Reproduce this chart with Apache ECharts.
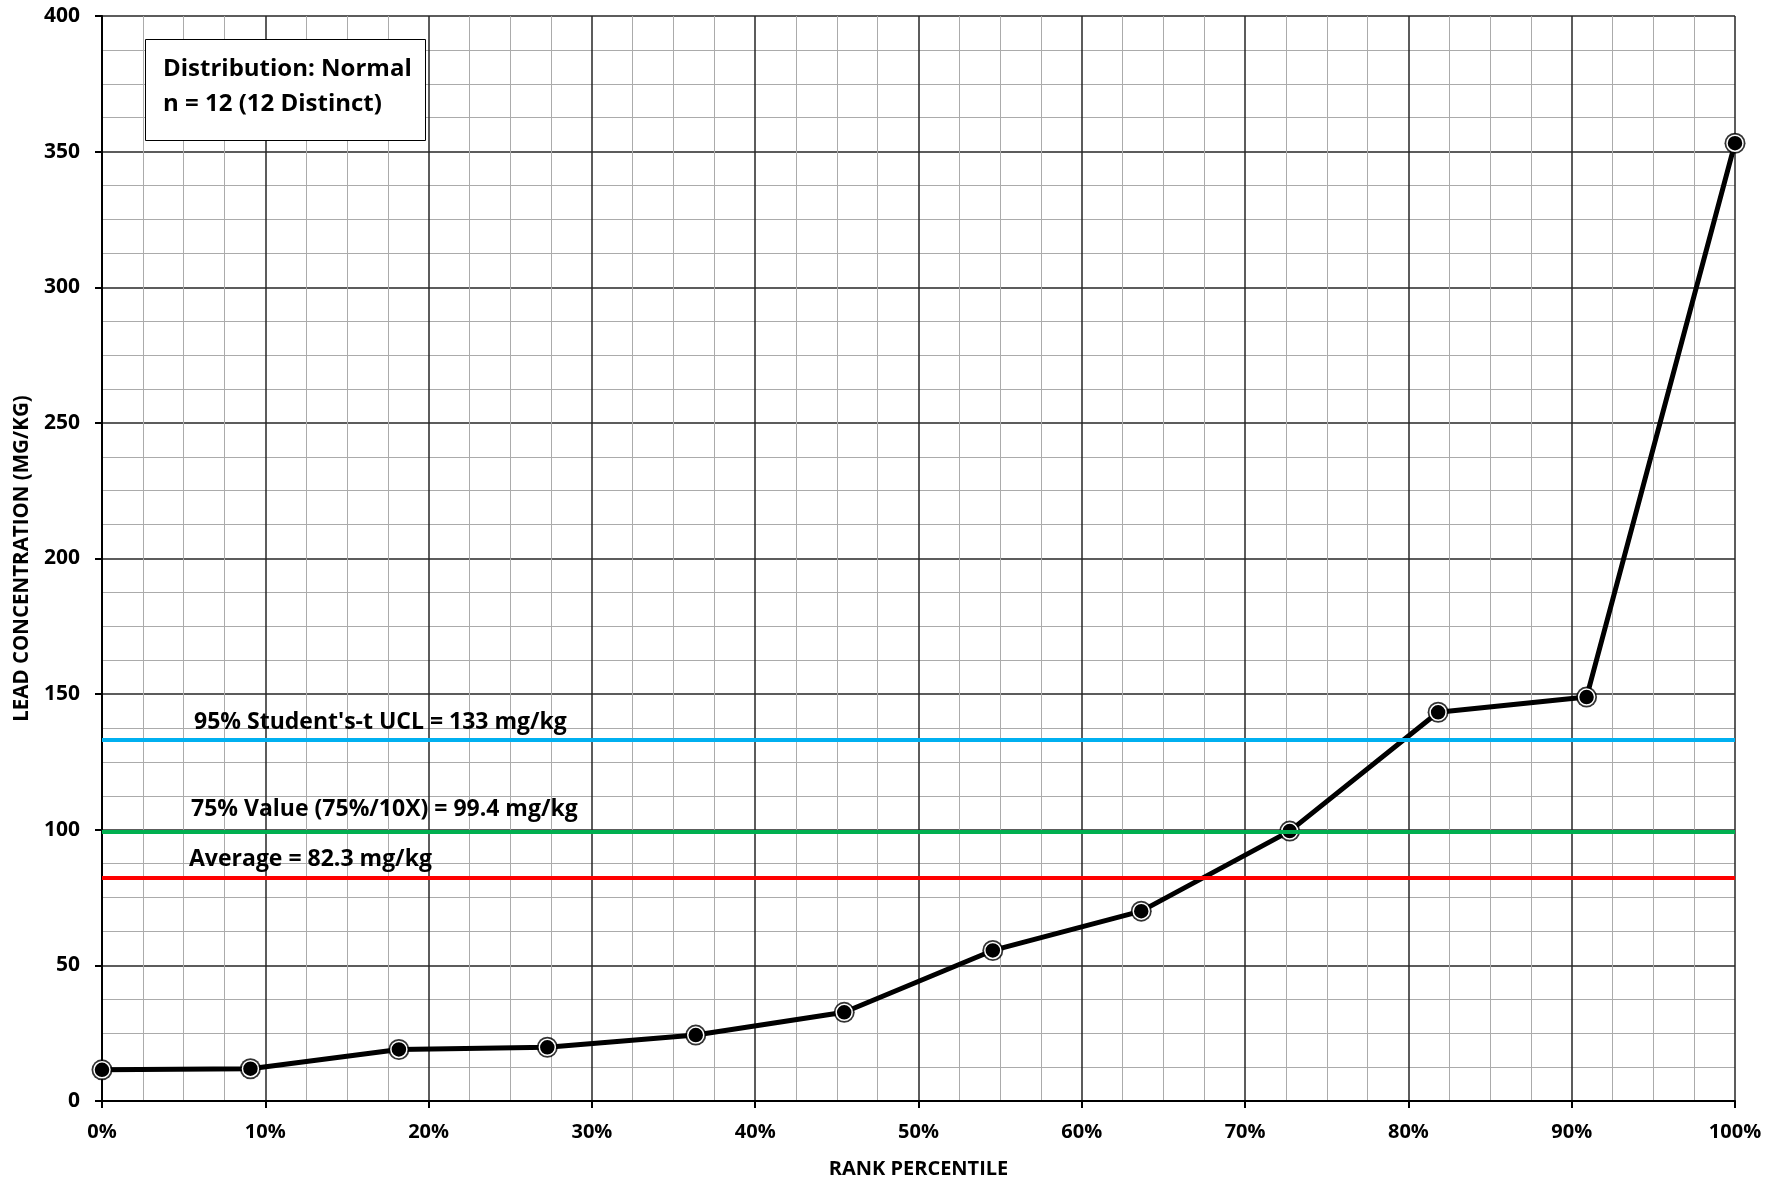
<!DOCTYPE html>
<html>
<head>
<meta charset="utf-8">
<script src="https://cdn.jsdelivr.net/npm/echarts@6/dist/echarts.min.js"></script>
<style>
  html, body { margin: 0; padding: 0; background: #fff; }
  #main { width: 1782px; height: 1184px; }
</style>
</head>
<body>
<div id="main"></div>
<script>
// rank percentile (%) of each sample, and its lead result (mg/kg)
const rankPct = [0, 9.09, 18.18, 27.27, 36.36, 45.45, 54.55, 63.64, 72.73, 81.82, 90.91, 100];
const leadConc = [11.5, 11.9, 19.0, 19.8, 24.3, 32.7, 55.5, 70.0, 99.5, 143.3, 148.9, 353.1];

// horizontal reference lines
const refValues = [133, 99.4, 82.3];
const refNames = ["95% Student's-t UCL = 133 mg/kg", '75% Value (75%/10X) = 99.4 mg/kg', 'Average = 82.3 mg/kg'];
const refColors = ['#00B0F0', '#00B050', '#FF0000'];

const FONT = 'Open Sans';
const chart = echarts.init(document.getElementById('main'));

const points = rankPct.map((x, i) => [x, leadConc[i]]);

chart.setOption({
  animation: false,
  textStyle: { fontFamily: FONT },
  title: {
    text: 'Distribution: Normal\nn = 12 (12 Distinct)',
    left: 145,
    top: 39,
    padding: [13, 14, 19, 18],
    borderColor: '#000',
    borderWidth: 1,
    backgroundColor: '#fff',
    textStyle: { fontFamily: FONT, fontSize: 24, fontWeight: 'bold', color: '#000', lineHeight: 35 }
  },
  grid: { left: 102, right: 47, top: 16, bottom: 82 },
  xAxis: {
    type: 'value',
    min: 0,
    max: 100,
    interval: 10,
    name: 'RANK PERCENTILE',
    nameLocation: 'middle',
    nameGap: 58,
    nameTextStyle: { fontFamily: FONT, fontSize: 20, fontWeight: 'bold', color: '#000' },
    axisLine: { lineStyle: { color: '#000', width: 2 } },
    axisTick: { show: true, length: 7, lineStyle: { color: '#000', width: 2 } },
    axisLabel: { formatter: '{value}%', margin: 21, fontSize: 20, fontWeight: 'bold', color: '#000' },
    splitLine: { show: true, lineStyle: { color: '#262626', width: 1.5 } },
    minorTick: { show: true, splitNumber: 4, length: 0 },
    minorSplitLine: { show: true, lineStyle: { color: '#ababab', width: 1 } }
  },
  yAxis: {
    type: 'value',
    min: 0,
    max: 400,
    interval: 50,
    name: 'LEAD CONCENTRATION (MG/KG)',
    nameLocation: 'middle',
    nameGap: 69,
    nameTextStyle: { fontFamily: FONT, fontSize: 20.5, fontWeight: 'bold', color: '#000' },
    axisLine: { show: true, lineStyle: { color: '#000', width: 2 } },
    axisTick: { show: true, length: 7, lineStyle: { color: '#000', width: 2 } },
    axisLabel: { margin: 22, fontSize: 21, fontWeight: 'bold', color: '#000' },
    splitLine: { show: true, lineStyle: { color: '#262626', width: 1.5 } },
    minorTick: { show: true, splitNumber: 4, length: 0 },
    minorSplitLine: { show: true, lineStyle: { color: '#ababab', width: 1 } }
  },
  series: [
    {
      // outer black ring of the markers
      type: 'scatter',
      data: points,
      symbol: 'circle',
      symbolSize: 21,
      itemStyle: { color: '#000' },
      z: 3
    },
    {
      type: 'line',
      data: points,
      symbol: 'circle',
      symbolSize: 16,
      lineStyle: { color: '#000', width: 5 },
      itemStyle: { color: '#000', borderColor: '#fff', borderWidth: 1.5 },
      z: 4,
      markLine: {
        silent: true,
        symbol: 'none',
        data: refValues.map((v, i) => ({
          yAxis: v,
          lineStyle: { color: refColors[i], width: 4, type: 'solid' },
          label: {
            show: true,
            position: 'insideStartTop',
            distance: [[92, 6], [89, 10], [87, 7]][i],
            formatter: refNames[i],
            fontFamily: FONT,
            fontSize: 23,
            fontWeight: 'bold',
            color: '#000'
          }
        }))
      }
    }
  ]
});
</script>
</body>
</html>
